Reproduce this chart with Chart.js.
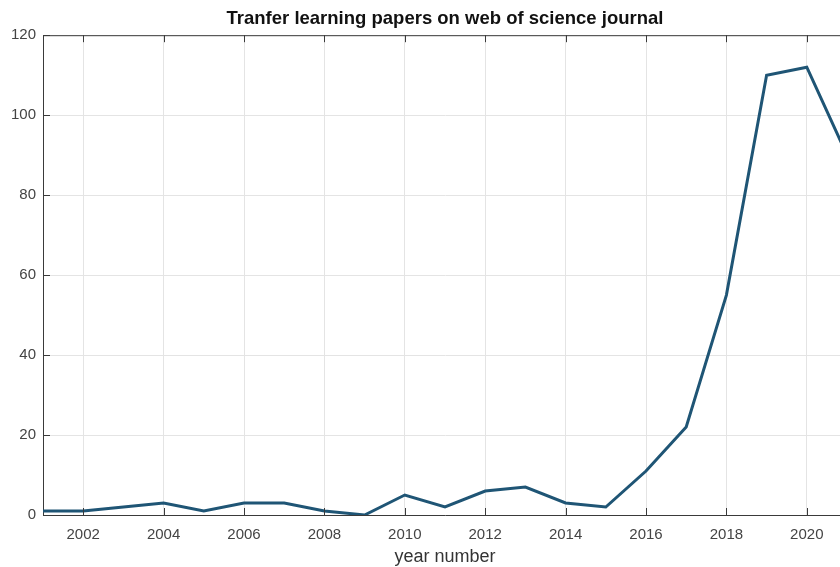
<!DOCTYPE html>
<html>
<head>
<meta charset="utf-8">
<script src="https://cdn.jsdelivr.net/npm/chart.js@4/dist/chart.umd.min.js"></script>
<style>
  html, body { margin: 0; padding: 0; background: #ffffff; overflow: hidden; width: 840px; height: 567px; }
  #wrap { width: 850px; height: 567px; }
</style>
</head>
<body>
<div id="wrap"><canvas id="c" width="850" height="567"></canvas></div>
<script>
const years = [2001, 2002, 2003, 2004, 2005, 2006, 2007, 2008, 2009, 2010, 2011,
               2012, 2013, 2014, 2015, 2016, 2017, 2018, 2019, 2020, 2021];
const papers = [1, 1, 2, 3, 1, 3, 3, 1, 0, 5, 2,
                6, 7, 3, 2, 11, 22, 55, 110, 112, 90];
const xTicks = [2002, 2004, 2006, 2008, 2010, 2012, 2014, 2016, 2018, 2020];
const yTicks = [0, 20, 40, 60, 80, 100, 120];
const titleText = 'Tranfer learning papers on web of science journal';
const xTitle = 'year number';

const FONT = "'Liberation Sans', Arial, sans-serif";
const AXIS = '#3a3a3a';

const boxPlugin = {
  id: 'matlabBox',
  afterDraw(chart) {
    const { ctx, chartArea: a, scales } = chart;
    ctx.save();
    ctx.strokeStyle = AXIS;
    ctx.lineWidth = 1;
    ctx.beginPath();
    ctx.moveTo(a.left, a.top + 0.5);
    ctx.lineTo(a.right, a.top + 0.5);
    const L = 7;
    scales.x.ticks.forEach(t => {
      const px = Math.round(scales.x.getPixelForValue(t.value)) + 0.5;
      ctx.moveTo(px, a.bottom); ctx.lineTo(px, a.bottom - L);
      ctx.moveTo(px, a.top); ctx.lineTo(px, a.top + L);
    });
    scales.y.ticks.forEach(t => {
      const py = Math.round(scales.y.getPixelForValue(t.value)) + 0.5;
      ctx.moveTo(a.left, py); ctx.lineTo(a.left + L, py);
    });
    ctx.stroke();
    ctx.restore();
  }
};

new Chart(document.getElementById('c'), {
  type: 'line',
  data: {
    datasets: [{
      data: years.map((y, i) => ({ x: y, y: papers[i] })),
      borderColor: '#1f5575',
      borderWidth: 3,
      pointRadius: 0,
      tension: 0,
      fill: false
    }]
  },
  options: {
    responsive: false,
    animation: false,
    layout: { padding: { left: 0, right: 3, top: 0, bottom: 0 } },
    plugins: {
      legend: { display: false },
      tooltip: { enabled: false },
      title: {
        display: true,
        fullSize: false,
        text: titleText,
        color: '#111111',
        font: { family: FONT, size: 18.5, weight: 'bold', lineHeight: 1.2 },
        padding: { top: 8, bottom: 5 }
      }
    },
    scales: {
      x: {
        type: 'linear',
        min: 2001,
        max: 2021,
        afterBuildTicks(scale) { scale.ticks = xTicks.map(v => ({ value: v })); },
        afterFit(scale) { scale.height = 52; },
        ticks: {
          color: '#444444',
          font: { family: FONT, size: 15 },
          padding: 11,
          maxRotation: 0,
          callback: v => String(v)
        },
        grid: { color: '#e4e4e4', drawTicks: false },
        border: { color: AXIS, width: 1 },
        title: {
          display: true,
          text: xTitle,
          color: '#333333',
          font: { family: FONT, size: 18, lineHeight: 1.1 },
          padding: { top: 0, bottom: 0 }
        }
      },
      y: {
        type: 'linear',
        min: 0,
        max: 120,
        afterBuildTicks(scale) { scale.ticks = yTicks.map(v => ({ value: v })); },
        afterFit(scale) { scale.width = 43; },
        ticks: {
          color: '#444444',
          font: { family: FONT, size: 15 },
          padding: 7
        },
        grid: { color: '#e4e4e4', drawTicks: false },
        border: { color: AXIS, width: 1 }
      }
    }
  },
  plugins: [boxPlugin]
});
</script>
</body>
</html>
